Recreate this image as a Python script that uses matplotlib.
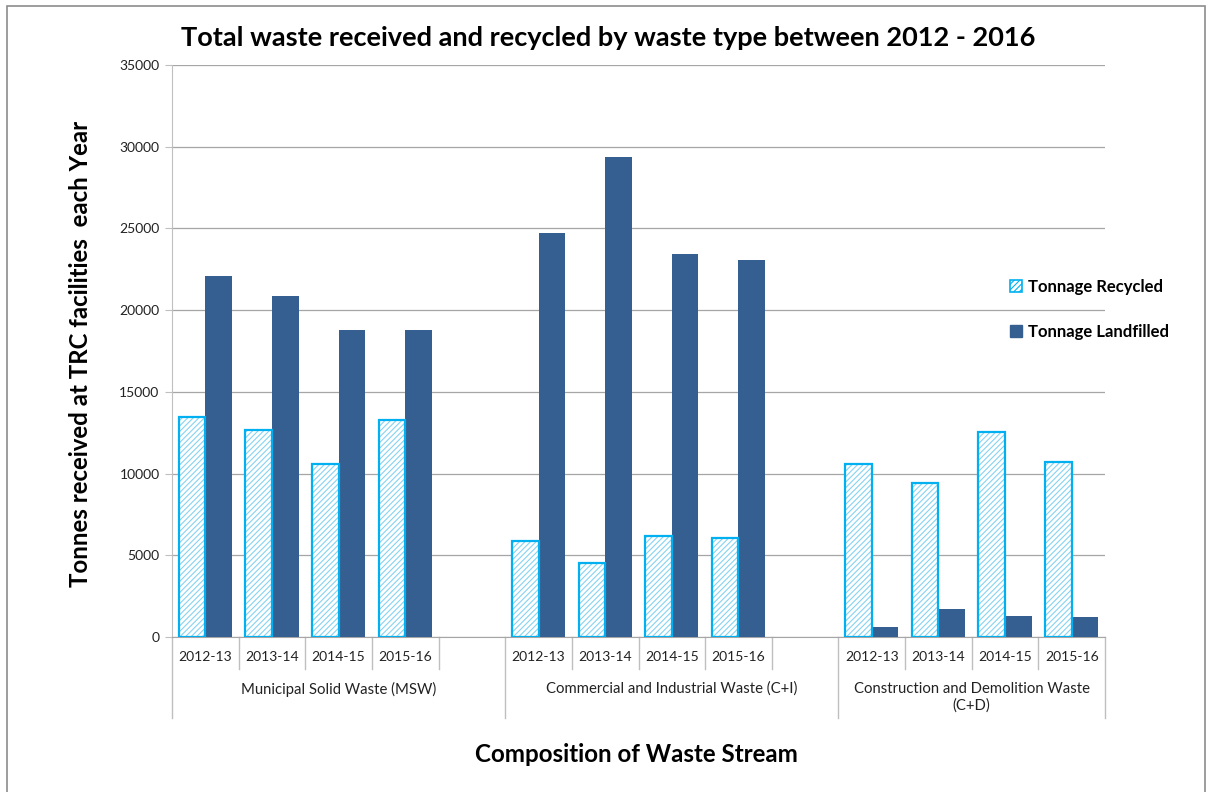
import numpy as np
import matplotlib
matplotlib.use('Agg')
import matplotlib.pyplot as plt
import matplotlib.patches as mpatches
import matplotlib.transforms as mtransforms

plt.rcParams['font.family'] = ['Lato', 'DejaVu Sans']
plt.rcParams['hatch.linewidth'] = 0.8

years = ['2012-13', '2013-14', '2014-15', '2015-16']
groups = ['Municipal Solid Waste (MSW)',
          'Commercial and Industrial Waste (C+I)',
          'Construction and Demolition Waste\n(C+D)']
recycled = [[13450, 12650, 10600, 13300],
            [5850, 4550, 6150, 6050],
            [10600, 9430, 12530, 10730]]
landfilled = [[22100, 20850, 18800, 18800],
              [24700, 29400, 23450, 23050],
              [620, 1730, 1300, 1250]]

dark_blue = '#365F91'
cyan = '#00B0F0'
hatch_blue = '#86D3F2'
grid_col = '#A6A6A6'
axis_col = '#BFBFBF'

fig = plt.figure(figsize=(12.08, 7.92), dpi=100, facecolor='white')
ax = fig.add_axes([172/1208, 1 - 637/792, (1105-172)/1208, (637-65)/792])

# slot layout: 4 years + blank for each group, last group has no trailing blank
slots_per_group = len(years) + 1
w = 0.4
for g in range(len(groups)):
    x0 = g * slots_per_group
    xs = x0 + np.arange(len(years)) + 0.5
    ax.bar(xs - w/2, recycled[g], width=w, color='white', edgecolor=hatch_blue,
           hatch='//////', lw=0, zorder=3)
    ax.bar(xs - w/2, recycled[g], width=w, color='none', edgecolor=cyan,
           lw=1.6, zorder=4)
    ax.bar(xs + w/2, landfilled[g], width=w, color=dark_blue, lw=0, zorder=3)

nslots = slots_per_group * len(groups) - 1
ax.set_xlim(0, nslots)
ax.set_ylim(0, 35000)
ax.set_yticks(np.arange(0, 35001, 5000))
ax.set_yticklabels([str(v) for v in range(0, 35001, 5000)], fontsize=10, color='#222222')
ax.yaxis.grid(True, color=grid_col, lw=0.9)
ax.set_axisbelow(True)
ax.tick_params(axis='y', length=5, color=axis_col, pad=4)
ax.set_xticks([])
for s in ['top', 'right']:
    ax.spines[s].set_visible(False)
ax.spines['left'].set_color(axis_col)
ax.spines['bottom'].set_color(grid_col)

# hierarchical category axis
trans = mtransforms.blended_transform_factory(ax.transData, ax.transAxes)
year_y = -0.035
sep_y = -0.056
grp_bottom = -0.142
grp_label_y = -0.078
for g in range(len(groups)):
    x0 = g * slots_per_group
    for i, yr in enumerate(years):
        ax.text(x0 + i + 0.5, year_y, yr, transform=trans, ha='center', va='center',
                fontsize=10, color='#222222')
    for i in range(1, slots_per_group):
        xb = x0 + i
        if xb < nslots:
            ax.plot([xb, xb], [0, sep_y], transform=trans, color=axis_col, lw=1,
                    clip_on=False)
    gw = len(years) if g == len(groups) - 1 else slots_per_group
    ax.text(x0 + gw / 2, grp_label_y, groups[g], transform=trans, ha='center',
            va='top', fontsize=10.7, color='#222222', linespacing=1.25)
for xb in [0, slots_per_group, 2 * slots_per_group, nslots]:
    ax.plot([xb, xb], [0, grp_bottom], transform=trans, color=axis_col, lw=1,
            clip_on=False)

fig.text(608/1208, 1 - 38/792, 'Total waste received and recycled by waste type between 2012 - 2016',
         ha='center', va='center', fontsize=19.5, fontweight='bold')
fig.text(81/1208, 1 - 354/792, 'Tonnes received at TRC facilities  each Year', rotation=90,
         ha='center', va='center', fontsize=17.3, fontweight='bold')
fig.text(636/1208, 1 - 755/792, 'Composition of Waste Stream', ha='center', va='center',
         fontsize=17.4, fontweight='bold')

h_rec = mpatches.Patch(facecolor='white', edgecolor=cyan, hatch='//////', lw=1.2)
h_land = mpatches.Patch(facecolor=dark_blue, edgecolor=dark_blue)
fig.legend([h_rec, h_land], ['Tonnage Recycled', 'Tonnage Landfilled'],
           loc='upper left', bbox_to_anchor=(995/1208, 1 - 264/792), frameon=False,
           handlelength=0.7, handleheight=0.7, handletextpad=0.4, labelspacing=1.75,
           prop={'weight': 'bold', 'size': 12})

# outer chart border
fig.add_artist(mpatches.Rectangle((7/1208, -0.01), (1205-7)/1208, (786)/792 + 0.01,
                                  transform=fig.transFigure, fill=False,
                                  edgecolor='#8C8C8C', lw=1.2))

fig.savefig('out.png', dpi=100, facecolor='white')
